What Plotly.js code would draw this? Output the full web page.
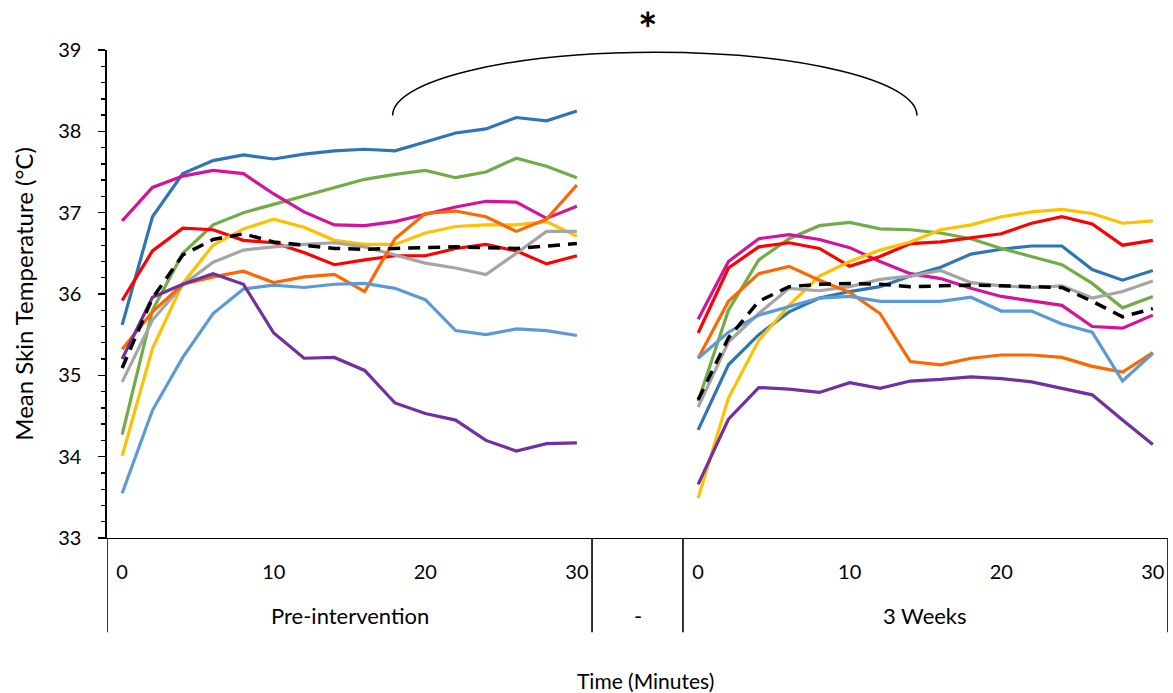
<!DOCTYPE html>
<html>
<head>
<meta charset="utf-8">
<script src="https://cdn.plot.ly/plotly-3.0.1.min.js"></script>
<style>html,body{margin:0;padding:0;background:#fff;}#chart{width:1173px;height:693px;}</style>
</head>
<body>
<div id="chart"></div>
<script>
// ---- data ----
const timePre = [0, 2, 4, 6, 8, 10, 12, 14, 16, 18, 20, 22, 24, 26, 28, 30];
const timePost = [0, 2, 4, 6, 8, 10, 12, 14, 16, 18, 20, 22, 24, 26, 28, 30];
const tickTimes = [0, 10, 20, 30];
const groupLabels = ['Pre-intervention', '-', '3 Weeks'];
const gapSlots = 3;

const darkBluePre  = [35.62, 36.95, 37.48, 37.64, 37.71, 37.66, 37.72, 37.76, 37.78, 37.76, 37.87, 37.98, 38.03, 38.17, 38.13, 38.25];
const darkBluePost = [34.33, 35.13, 35.50, 35.78, 35.95, 36.03, 36.09, 36.22, 36.33, 36.49, 36.55, 36.59, 36.59, 36.30, 36.17, 36.29];
const greenPre     = [34.27, 35.80, 36.50, 36.85, 37.00, 37.10, 37.20, 37.31, 37.41, 37.47, 37.52, 37.43, 37.50, 37.67, 37.57, 37.43];
const greenPost    = [34.68, 35.80, 36.42, 36.68, 36.84, 36.88, 36.80, 36.79, 36.75, 36.68, 36.56, 36.46, 36.36, 36.13, 35.83, 35.97];
const magentaPre   = [36.90, 37.31, 37.45, 37.52, 37.48, 37.23, 37.01, 36.85, 36.84, 36.89, 36.98, 37.07, 37.14, 37.13, 36.93, 37.08];
const magentaPost  = [35.69, 36.40, 36.68, 36.73, 36.67, 36.57, 36.40, 36.25, 36.19, 36.07, 35.97, 35.91, 35.86, 35.60, 35.58, 35.74];
const redPre       = [35.92, 36.53, 36.81, 36.79, 36.66, 36.63, 36.51, 36.36, 36.42, 36.47, 36.47, 36.56, 36.61, 36.53, 36.37, 36.47];
const redPost      = [35.52, 36.32, 36.58, 36.63, 36.56, 36.34, 36.46, 36.62, 36.64, 36.69, 36.74, 36.87, 36.95, 36.86, 36.60, 36.66];
const yellowPre    = [34.01, 35.33, 36.13, 36.60, 36.80, 36.92, 36.82, 36.66, 36.61, 36.61, 36.75, 36.83, 36.85, 36.85, 36.89, 36.71];
const yellowPost   = [33.49, 34.72, 35.43, 35.86, 36.22, 36.40, 36.54, 36.64, 36.79, 36.85, 36.95, 37.01, 37.04, 36.99, 36.87, 36.90];
const grayPre      = [34.92, 35.68, 36.11, 36.39, 36.54, 36.58, 36.61, 36.63, 36.58, 36.48, 36.38, 36.32, 36.24, 36.50, 36.77, 36.77];
const grayPost     = [34.61, 35.41, 35.76, 36.07, 36.04, 36.09, 36.18, 36.22, 36.29, 36.14, 36.10, 36.08, 36.10, 35.95, 36.03, 36.16];
const orangePre    = [35.32, 35.78, 36.12, 36.21, 36.28, 36.14, 36.21, 36.24, 36.03, 36.68, 36.99, 37.02, 36.95, 36.77, 36.92, 37.34];
const orangePost   = [35.21, 35.91, 36.25, 36.34, 36.17, 36.02, 35.76, 35.17, 35.13, 35.21, 35.25, 35.25, 35.22, 35.11, 35.04, 35.28];
const lightBluePre = [33.55, 34.57, 35.22, 35.76, 36.06, 36.11, 36.08, 36.12, 36.13, 36.07, 35.93, 35.55, 35.50, 35.57, 35.55, 35.49];
const lightBluePost= [35.21, 35.53, 35.74, 35.84, 35.95, 35.97, 35.91, 35.91, 35.91, 35.96, 35.79, 35.79, 35.63, 35.53, 34.93, 35.27];
const purplePre    = [35.20, 35.96, 36.12, 36.25, 36.12, 35.52, 35.21, 35.22, 35.06, 34.66, 34.53, 34.45, 34.20, 34.07, 34.16, 34.17];
const purplePost   = [33.66, 34.46, 34.85, 34.83, 34.79, 34.91, 34.84, 34.93, 34.95, 34.98, 34.96, 34.92, 34.84, 34.76, 34.45, 34.15];
const meanPre      = [35.09, 35.95, 36.48, 36.67, 36.74, 36.64, 36.60, 36.56, 36.55, 36.56, 36.58, 36.58, 36.57, 36.56, 36.59, 36.62];
const meanPost     = [34.70, 35.46, 35.91, 36.09, 36.12, 36.13, 36.12, 36.09, 36.10, 36.11, 36.10, 36.09, 36.08, 35.91, 35.72, 35.82];

// ---- build ----
const series = [
  {pre: darkBluePre, post: darkBluePost, color: '#2E75B6'},
  {pre: greenPre, post: greenPost, color: '#70AD47'},
  {pre: magentaPre, post: magentaPost, color: '#D5139A'},
  {pre: redPre, post: redPost, color: '#FF0000'},
  {pre: yellowPre, post: yellowPost, color: '#FFC000'},
  {pre: grayPre, post: grayPost, color: '#A5A5A5'},
  {pre: orangePre, post: orangePost, color: '#FF6600'},
  {pre: lightBluePre, post: lightBluePost, color: '#5B9BD5'},
  {pre: purplePre, post: purplePost, color: '#7030A0'},
  {pre: meanPre, post: meanPost, color: '#000000', dash: '12px,8px'}
];

const postOffset = timePre.length + gapSlots;
const xPre = timePre.map((t, i) => i);
const xPost = timePost.map((t, i) => postOffset + i);
const xAll = xPre.concat([null], xPost);

const traces = series.map(s => ({
  type: 'scatter', mode: 'lines',
  x: xAll,
  y: s.pre.concat([null], s.post),
  connectgaps: false,
  line: {color: s.color, width: s.dash ? 3.5 : 3.2, dash: s.dash || 'solid'},
  hoverinfo: 'skip'
}));

const tickvals = [], ticktext = [];
tickTimes.forEach(t => { tickvals.push(timePre.indexOf(t)); ticktext.push(String(t)); });
tickTimes.forEach(t => { tickvals.push(postOffset + timePost.indexOf(t)); ticktext.push(String(t)); });

const nCats = timePre.length + gapSlots + timePost.length;
const groups = [
  {label: groupLabels[0], start: 0, end: timePre.length - 1},
  {label: groupLabels[1], start: timePre.length, end: postOffset - 1},
  {label: groupLabels[2], start: postOffset, end: nCats - 1}
];

const font = 'Lato, "Open Sans", sans-serif';
const divBottom = -0.193;
const shapes = [];
const annotations = [];
const bounds = [groups[0].start - 0.5].concat(groups.map(g => g.end + 0.5));
bounds.forEach(b => shapes.push({
  type: 'line', xref: 'x', yref: 'paper', x0: b, x1: b, y0: 0, y1: divBottom,
  line: {color: '#000', width: 1.6}
}));
groups.forEach(g => annotations.push({
  xref: 'x', yref: 'paper', x: (g.start + g.end) / 2, y: -0.158,
  text: g.label, showarrow: false, xanchor: 'center', yanchor: 'middle',
  font: {family: font, size: 22, color: '#000'}
}));

// x axis title (placed like the reference, slightly right of plot centre)
annotations.push({
  xref: 'paper', yref: 'paper', x: 0.5075, y: -0.291,
  text: 'Time (Minutes)', showarrow: false, xanchor: 'center', yanchor: 'middle',
  font: {family: font, size: 21, color: '#000'}
});

// significance bracket (half ellipse) in paper coords
const bx0 = 0.2692, bx1 = 0.7634, byBase = 0.866, byTop = 0.9955;
const bcx = (bx0 + bx1) / 2, ba = (bx1 - bx0) / 2, bb = byTop - byBase, k = 0.5523;
shapes.push({
  type: 'path', xref: 'paper', yref: 'paper',
  path: `M ${bx0},${byBase} C ${bx0},${byBase + k * bb} ${bcx - k * ba},${byTop} ${bcx},${byTop} ` +
        `C ${bcx + k * ba},${byTop} ${bx1},${byBase + k * bb} ${bx1},${byBase}`,
  line: {color: '#000', width: 1.5}
});
annotations.push({
  xref: 'paper', yref: 'paper', x: 0.5099, y: 1.044, text: '<b>*</b>', showarrow: false,
  xanchor: 'center', yanchor: 'middle', font: {family: font, size: 46, color: '#000'}
});

const layout = {
  width: 1173, height: 693,
  margin: {l: 107, r: 5, t: 50, b: 155},
  paper_bgcolor: '#fff', plot_bgcolor: '#fff',
  showlegend: false,
  font: {family: font, size: 20, color: '#000'},
  xaxis: {
    type: 'linear', range: [-0.5, nCats - 0.5],
    showgrid: false, zeroline: false,
    showline: true, linecolor: '#000', linewidth: 1.4,
    ticks: '', tickvals: tickvals, ticktext: ticktext,
    ticklabelstandoff: 16,
    tickfont: {family: font, size: 20, color: '#000'}
  },
  yaxis: {
    range: [33, 39], dtick: 1, tick0: 33,
    showgrid: false, zeroline: false,
    showline: true, linecolor: '#000', linewidth: 1.6,
    ticks: 'outside', ticklen: 7, tickwidth: 1.6, tickcolor: '#000',
    minor: {ticks: 'outside', dtick: 0.2, ticklen: 4, tickwidth: 1.4, tickcolor: '#000', showgrid: false},
    ticklabelstandoff: 13,
    tickfont: {family: font, size: 20, color: '#000'},
    title: {text: 'Mean Skin Temperature (°C)', standoff: 18, font: {family: font, size: 24, color: '#000'}}
  },
  shapes: shapes,
  annotations: annotations
};

Plotly.newPlot('chart', traces, layout, {displayModeBar: false, staticPlot: true});
</script>
</body>
</html>
